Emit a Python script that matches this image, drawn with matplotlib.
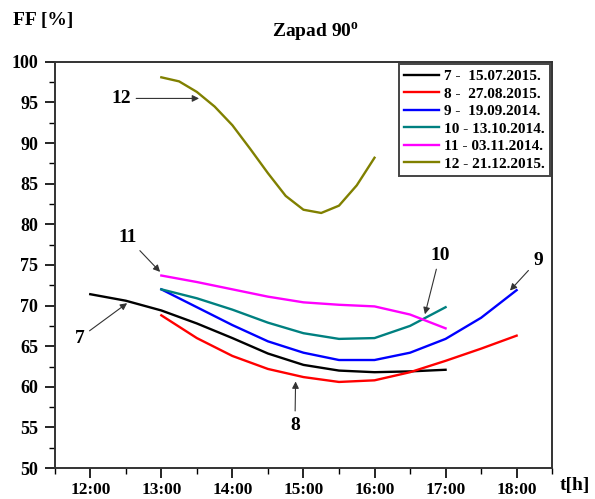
import matplotlib
matplotlib.use("Agg")
import matplotlib.pyplot as plt
from matplotlib.ticker import MultipleLocator, FuncFormatter

plt.rcParams["font.family"] = ["Liberation Serif", "DejaVu Serif"]
plt.rcParams["font.weight"] = "bold"

# hours (decimal) and FF values [%]
t7 = [12.0, 12.5, 13.0, 13.5, 14.0, 14.5, 15.0, 15.5, 16.0, 16.5, 17.0]
ff7 = [71.4, 70.6, 69.4, 67.8, 66.0, 64.1, 62.7, 62.0, 61.8, 61.9, 62.1]

t8 = [13.0, 13.5, 14.0, 14.5, 15.0, 15.5, 16.0, 16.5, 17.0, 17.5, 18.0]
ff8 = [68.8, 66.0, 63.8, 62.2, 61.2, 60.6, 60.8, 61.8, 63.2, 64.7, 66.3]

t9 = [13.0, 13.5, 14.0, 14.5, 15.0, 15.5, 16.0, 16.5, 17.0, 17.5, 18.0]
ff9 = [72.0, 69.8, 67.6, 65.6, 64.2, 63.3, 63.3, 64.2, 65.9, 68.5, 71.9]

t10 = [13.0, 13.5, 14.0, 14.5, 15.0, 15.5, 16.0, 16.5, 17.0]
ff10 = [72.0, 70.9, 69.5, 67.9, 66.6, 65.9, 66.0, 67.5, 69.8]

t11 = [13.0, 13.5, 14.0, 14.5, 15.0, 15.5, 16.0, 16.5, 17.0]
ff11 = [73.7, 72.9, 72.0, 71.1, 70.4, 70.1, 69.9, 68.9, 67.2]

t12 = [13.0, 13.25, 13.5, 13.75, 14.0, 14.25, 14.5, 14.75, 15.0, 15.25, 15.5, 15.75, 16.0]
ff12 = [98.1, 97.6, 96.3, 94.5, 92.2, 89.3, 86.3, 83.5, 81.8, 81.4, 82.3, 84.8, 88.2]

labels = ["7 -  15.07.2015.", "8 -  27.08.2015.", "9 -  19.09.2014.",
          "10 - 13.10.2014.", "11 - 03.11.2014.", "12 - 21.12.2015."]
colors = ["black", "red", "blue", "#008080", "magenta", "#808000"]

fig = plt.figure(figsize=(5.95, 4.99), dpi=100)
ax = fig.add_axes([0.092, 0.062, 0.836, 0.814])

series = [(t7, ff7), (t8, ff8), (t9, ff9), (t10, ff10), (t11, ff11), (t12, ff12)]
for (t, ff), c, lab in zip(series, colors, labels):
    ax.plot(t, ff, color=c, lw=1.7, label=lab, solid_joinstyle="round")

ax.set_xlim(11.5, 18.5)
ax.set_ylim(50, 100)
ax.xaxis.set_major_locator(MultipleLocator(1))
ax.xaxis.set_minor_locator(MultipleLocator(0.5))
ax.yaxis.set_major_locator(MultipleLocator(5))
ax.yaxis.set_minor_locator(MultipleLocator(2.5))
ax.xaxis.set_major_formatter(FuncFormatter(lambda v, p: "%d:00" % round(v)))
ax.tick_params(which="major", direction="out", length=7, width=1.2, labelsize=13, pad=5)
ax.tick_params(axis="x", which="major", labelsize=12.5, pad=3)
ax.tick_params(which="minor", direction="out", length=4, width=1.0)
for s in ax.spines.values():
    s.set_linewidth(1.4)
    s.set_color("#333333")

leg = ax.legend(loc="upper right", fontsize=11, handlelength=2.3, handletextpad=0.3,
                borderaxespad=0.15, labelspacing=0.25, fancybox=False,
                edgecolor="#444444", framealpha=1, borderpad=0.35)
leg.get_frame().set_linewidth(1.4)

fig.text(0.53, 0.925, "Zapad 90$^\\mathregular{o}$", ha="center", fontsize=14, fontweight="bold")
fig.text(0.022, 0.95, "FF [%]", ha="left", fontsize=14, fontweight="bold")
fig.text(0.94, 0.018, "t[h]", ha="left", fontsize=14, fontweight="bold")

arrow = dict(arrowstyle="-|>", color="#333333", lw=0.8, mutation_scale=10)
fs = 14
ax.annotate("12", xy=(13.57, 95.5), xytext=(12.43, 95.5), ha="center", va="center",
            fontsize=fs, arrowprops=arrow)
ax.annotate("11", xy=(13.01, 73.9), xytext=(12.52, 78.4), ha="center", va="center",
            fontsize=fs, arrowprops=arrow)
ax.annotate("7", xy=(12.55, 70.5), xytext=(11.85, 66.0), ha="center", va="center",
            fontsize=fs, arrowprops=arrow)
ax.annotate("8", xy=(14.89, 61.0), xytext=(14.88, 55.3), ha="center", va="center",
            fontsize=fs, arrowprops=arrow)
ax.annotate("10", xy=(16.7, 68.6), xytext=(16.92, 76.2), ha="center", va="center",
            fontsize=fs, arrowprops=arrow)
ax.annotate("9", xy=(17.88, 71.6), xytext=(18.3, 75.6), ha="center", va="center",
            fontsize=fs, arrowprops=arrow)

fig.savefig("out.png", dpi=100)
